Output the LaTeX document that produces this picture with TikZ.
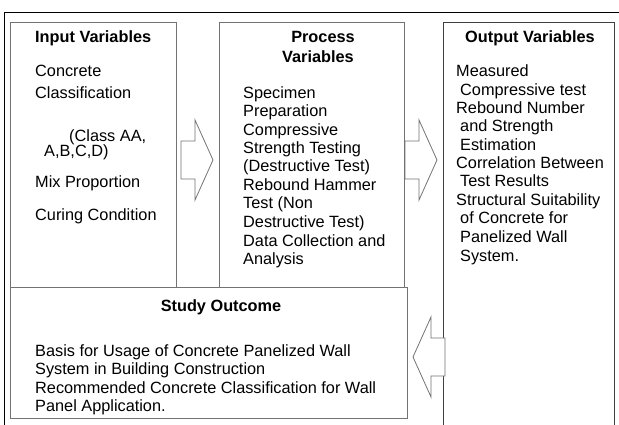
\documentclass[tikz,border=0pt]{standalone}
\usepackage{fontspec}
\setmainfont{Liberation Sans}
\definecolor{boxgray}{gray}{0.45}
\tikzset{blockarr/.pic={%
  \draw[boxgray,line width=.8pt,fill=white] (0,-19) -- (14,-19) -- (14,-40) -- (32,0)
    -- (14,40) -- (14,19) -- (0,19) -- cycle;}}

\begin{document}
\begin{tikzpicture}[x=1pt,y=-1pt]%
\useasboundingbox (0,0) rectangle (619,425);
\clip (0,0) rectangle (619,425);
\tikzstyle{box}=[draw=boxgray,line width=.9pt,rectangle,inner sep=0pt,anchor=north west] %%
\tikzstyle{txt}=[inner sep=0pt,anchor=base west,font=\fontsize{16.3}{18.3}\selectfont] %%
\tikzstyle{ttl}=[inner sep=0pt,anchor=base,font=\fontsize{16.3}{18.3}\selectfont\bfseries] %%
% frame and boxes
\node[draw,line width=1.2pt,rectangle,inner sep=0pt,anchor=north west,minimum width=650pt,minimum height=450pt] (frame) at (4,12) {}; %%
\node[box,minimum width=166pt,minimum height=265pt] (input) at (10,22) {}; %%
\node[box,minimum width=185pt,minimum height=265pt] (process) at (219,22) {}; %%
\node[box,draw=black!75,minimum width=171pt,minimum height=430pt] (output) at (443,22) {}; %%
\node[box,fill=white,minimum width=397pt,minimum height=131pt] (outcome) at (10,287) {}; %%
% block arrows
\pic (arr1) at (181,160) {blockarr}; %%
\pic (arr2) at (405,160) {blockarr}; %%
\pic[rotate=180] (arr3) at (445,357) {blockarr}; %%
% input variables
\node[txt,font=\fontsize{16.3}{18.3}\selectfont\bfseries] (inT) at (35,43) {Input Variables}; %%
\node[txt] (in1) at (35,77) {Concrete}; %%
\node[txt] (in2) at (35,99) {Classification}; %%
\node[txt] (in3) at (69,142) {(Class AA,}; %%
\node[txt] (in4) at (44,157) {A,B,C,D)}; %%
\node[txt] (in5) at (35,188) {Mix Proportion}; %%
\node[txt] (in6) at (35,221) {Curing Condition}; %%
% process variables
\node[ttl] (prT1) at (323,43) {Process}; %%
\node[ttl] (prT2) at (318,63) {Variables}; %%
\node[txt] (pr1) at (243,99) {Specimen}; %%
\node[txt] (pr2) at (243,117) {Preparation}; %%
\node[txt] (pr3) at (243,136) {Compressive}; %%
\node[txt] (pr4) at (243,154) {Strength Testing}; %%
\node[txt] (pr5) at (243,172) {(Destructive Test)}; %%
\node[txt] (pr6) at (243,191) {Rebound Hammer}; %%
\node[txt] (pr7) at (243,209) {Test (Non}; %%
\node[txt] (pr8) at (243,227) {Destructive Test)}; %%
\node[txt] (pr9) at (243,246) {Data Collection and}; %%
\node[txt] (pr10) at (243,264) {Analysis}; %%
% output variables
\node[ttl] (ouT) at (530,43) {Output Variables}; %%
\node[txt] (ou1) at (456,77) {Measured}; %%
\node[txt] (ou2) at (460,96) {Compressive test}; %%
\node[txt] (ou3) at (456,114) {Rebound Number}; %%
\node[txt] (ou4) at (460,132) {and Strength}; %%
\node[txt] (ou5) at (460,151) {Estimation}; %%
\node[txt] (ou6) at (456,169) {Correlation Between}; %%
\node[txt] (ou7) at (460,187) {Test Results}; %%
\node[txt] (ou8) at (456,206) {Structural Suitability}; %%
\node[txt] (ou9) at (460,224) {of Concrete for}; %%
\node[txt] (ou10) at (460,242) {Panelized Wall}; %%
\node[txt] (ou11) at (460,261) {System.}; %%
% study outcome
\node[ttl] (stT) at (221,311) {Study Outcome}; %%
\node[txt] (st1) at (35,356) {Basis for Usage of Concrete Panelized Wall}; %%
\node[txt] (st2) at (35,374) {System in Building Construction}; %%
\node[txt] (st3) at (35,393) {Recommended Concrete Classification for Wall}; %%
\node[txt] (st4) at (35,411) {Panel Application.}; %%
\end{tikzpicture}
\end{document}
